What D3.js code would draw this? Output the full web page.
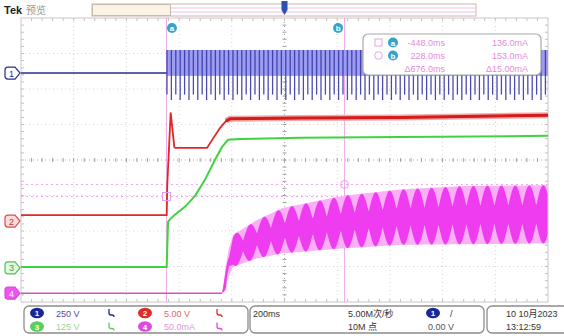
<!DOCTYPE html>
<html><head><meta charset="utf-8">
<script src="https://cdn.jsdelivr.net/npm/d3@7/dist/d3.min.js"></script>
<style>
html,body{margin:0;padding:0;background:#fff;}
svg{display:block;font-family:"Liberation Sans","Noto Sans CJK SC",sans-serif;}
</style></head>
<body>
<svg id="c" width="564" height="336"></svg>
<script>
// ---------- data ----------
// time in ms, 200 ms/div, 10 divisions
const timeDomain = [-1000, 1000];
// channel settings (units/div, ground offset in divisions from centre)
const channelNames = ["1", "2", "3", "4"];
const channelScales = [250, 5, 125, 50];          // V/div, V/div, V/div, mA/div
const channelOffsets = [2.45, -1.72, -3.04, -3.75];
const channelLabels = ["250 V", "5.00 V", "125 V", "50.0mA"];

// Ch1 (AC line voltage) envelope
const ch1Times = [-1000, -447, -446, 1000];
const ch1Hi = [0, 0, 162, 162];
const ch1Lo = [0, 0, -190, -190];
const ch1CarrierMs = 16.7;

// Ch2 (V)
const ch2Times = [-1000, -447, -445, -432, -425, -418, -414, -294, -275, -245, -222, -207, 59, 438, 1000];
const ch2Values = [0.85, 0.85, 5.0, 15.3, 12.8, 10.4, 10.3, 10.3, 11.4, 13.1, 14.1, 14.4, 14.5, 14.6, 14.9];

// Ch3 (V)
const ch3Times = [-1000, -447, -442, -434, -416, -378, -340, -302, -264, -237, -214, -169, 59, 438, 1000];
const ch3Values = [3.5, 3.5, 162, 172, 187, 215, 253, 310, 380, 426, 451, 454, 458, 461, 465];

// Ch4 (mA) envelope of the ripple current
const ch4HiTimes = [-1000, -237, -230, -222, -212, -195, -104, -6, 222, 438, 692, 996];
const ch4HiValues = [0, 0, 15, 39, 62, 82, 103, 120, 137, 146, 151, 152];
const ch4LoTimes = [-1000, -237, -222, -218, -195, -104, -6, 222, 438, 996];
const ch4LoValues = [0, 0, 4, 18, 37, 49, 56, 63, 68, 70];
const ch4RippleMs = 53;

// cursors
const cursorTimes = [-448, 228];         // a, b
const cursorLevels = [136, 153];         // a, b (mA on ch4)
const readoutRows = [["-448.0ms", "136.0mA"], ["228.0ms", "153.0mA"], ["\u0394676.0ms", "\u039415.00mA"]];

// status bar text
const timebaseText = "200ms";
const sampleText = ["5.00M次/秒", "10M 点"];
const triggerLevelText = "0.00 V";
const dateText = ["10 10月2023", "13:12:59"];

// ---------- drawing ----------
const svg = d3.select("#c");
const L = 21, R = 548, T = 18, B = 302;
const x = d3.scaleLinear().domain(timeDomain).range([L, R]);
const yDiv = d3.scaleLinear().domain([-4, 4]).range([B, T]);
const chY = (i, v) => yDiv(v / channelScales[i] + channelOffsets[i]);
const colors = {c1: "#2b2b96", c1l: "#9c9cf2", c2: "#e02626", c2l: "#f6a9a9", c3: "#3fd43f", c4: "#f03cf0", c4l: "#f9b0f6", cur: "#eeaaea"};

// top bar
svg.append("text").attr("x", 4).attr("y", 14).attr("font-size", 11).attr("font-weight", "bold").attr("fill", "#222").text("Tek");
svg.append("text").attr("x", 26).attr("y", 14).attr("font-size", 10).attr("fill", "#999").text("预览");
svg.append("rect").attr("x", 92).attr("y", 4).attr("width", 384).attr("height", 12).attr("fill", "#fff").attr("stroke", "#c9b9a9");
svg.append("rect").attr("x", 92.5).attr("y", 4.5).attr("width", 78).attr("height", 11).attr("fill", "#fbf3e6").attr("stroke", "#c9b9a9");
svg.append("line").attr("x1", 171).attr("x2", 476).attr("y1", 8).attr("y2", 8).attr("stroke", "#f0c0e0");
svg.append("line").attr("x1", 171).attr("x2", 476).attr("y1", 12).attr("y2", 12).attr("stroke", "#f0c0e0");

// grid
const g = svg.append("g");
for (let i = 1; i < 10; i++) {
  const xx = L + i * (R - L) / 10;
  g.append("line").attr("x1", xx).attr("x2", xx).attr("y1", T).attr("y2", B)
    .attr("stroke", i === 5 ? "#a8a8a8" : "#d4d4d4").attr("stroke-dasharray", "1,3");
}
for (let j = 1; j < 8; j++) {
  const yy = T + j * (B - T) / 8;
  g.append("line").attr("x1", L).attr("x2", R).attr("y1", yy).attr("y2", yy)
    .attr("stroke", j === 4 ? "#a8a8a8" : "#d4d4d4").attr("stroke-dasharray", "1,3");
}
// minor ticks on centre lines and borders
const cx0 = (L + R) / 2, cy0 = (T + B) / 2;
for (let k = 1; k < 50; k++) {
  const xx = L + k * (R - L) / 50;
  g.append("line").attr("x1", xx).attr("x2", xx).attr("y1", cy0 - 2).attr("y2", cy0 + 2).attr("stroke", "#a0a0a0");
  g.append("line").attr("x1", xx).attr("x2", xx).attr("y1", T).attr("y2", T + 3).attr("stroke", "#c0c0c0");
  g.append("line").attr("x1", xx).attr("x2", xx).attr("y1", B - 3).attr("y2", B).attr("stroke", "#c0c0c0");
}
for (let k = 1; k < 40; k++) {
  const yy = T + k * (B - T) / 40;
  g.append("line").attr("x1", cx0 - 2).attr("x2", cx0 + 2).attr("y1", yy).attr("y2", yy).attr("stroke", "#a0a0a0");
  g.append("line").attr("x1", L).attr("x2", L + 3).attr("y1", yy).attr("y2", yy).attr("stroke", "#c0c0c0");
  g.append("line").attr("x1", R - 3).attr("x2", R).attr("y1", yy).attr("y2", yy).attr("stroke", "#c0c0c0");
}
svg.append("rect").attr("x", L).attr("y", T).attr("width", R - L).attr("height", B - T).attr("fill", "none").attr("stroke", "#cfc3cf");

// trigger position marker
svg.append("path").attr("d", `M${x(0) - 3},1 h6 v9 l-3,5 l-3,-5 Z`).attr("fill", "#2c4fb0");

// cursors (vertical)
cursorTimes.forEach(t => {
  svg.append("line").attr("x1", x(t)).attr("x2", x(t)).attr("y1", T).attr("y2", B).attr("stroke", colors.cur).attr("stroke-width", 1);
});
// cursors (horizontal, ch4)
cursorLevels.forEach(v => {
  svg.append("line").attr("x1", L).attr("x2", R).attr("y1", chY(3, v)).attr("y2", chY(3, v))
    .attr("stroke", colors.cur).attr("stroke-dasharray", "2,3");
});

// ---- Ch4 ripple current ----
const hi4 = d3.scaleLinear().domain(ch4HiTimes).range(ch4HiValues).clamp(true);
const lo4 = d3.scaleLinear().domain(ch4LoTimes).range(ch4LoValues).clamp(true);
const tStart4 = ch4HiTimes[1];
const ts4 = d3.range(x(tStart4), R + 0.01, 0.5).map(px => x.invert(px));
svg.append("line").attr("x1", L).attr("x2", x(tStart4)).attr("y1", chY(3, 0)).attr("y2", chY(3, 0))
  .attr("stroke", "#cc55cc").attr("stroke-width", 1.5);
svg.append("path").datum(ts4).attr("fill", colors.c4l)
  .attr("d", d3.area().x(t => x(t)).y0(t => chY(3, lo4(t))).y1(t => chY(3, hi4(t))));
const beadF = t => 0.3 + 0.7 * Math.abs(Math.cos(Math.PI * (t - tStart4) / ch4RippleMs));
svg.append("path").datum(ts4).attr("fill", colors.c4)
  .attr("d", d3.area().x(t => x(t))
    .y0(t => { const m = (hi4(t) + lo4(t)) / 2, h = (hi4(t) - lo4(t)) / 2; return chY(3, m - h * beadF(t)); })
    .y1(t => { const m = (hi4(t) + lo4(t)) / 2, h = (hi4(t) - lo4(t)) / 2; return chY(3, m + h * beadF(t)); }));

// ---- Ch3 ----
const pts3 = ch3Times.map((t, i) => [t, ch3Values[i]]);
svg.append("path").datum(pts3).attr("fill", "none").attr("stroke", colors.c3).attr("stroke-width", 2)
  .attr("d", d3.line().x(d => x(d[0])).y(d => chY(2, d[1])));

// ---- Ch2 ----
const pts2 = ch2Times.map((t, i) => [t, ch2Values[i]]);
svg.append("path").datum(pts2.filter(d => d[0] >= -240)).attr("fill", "none").attr("stroke", colors.c2l).attr("stroke-width", 6)
  .attr("d", d3.line().x(d => x(d[0])).y(d => chY(1, d[1])));
svg.append("path").datum(pts2).attr("fill", "none").attr("stroke", colors.c2).attr("stroke-width", 1.8)
  .attr("d", d3.line().x(d => x(d[0])).y(d => chY(1, d[1])));
svg.append("path").datum(pts2.filter(d => d[0] >= -240)).attr("fill", "none").attr("stroke", "#d41c1c").attr("stroke-width", 3)
  .attr("d", d3.line().x(d => x(d[0])).y(d => chY(1, d[1])));

// ---- Ch1 ----
const hi1 = d3.scaleLinear().domain(ch1Times).range(ch1Hi);
const lo1 = d3.scaleLinear().domain(ch1Times).range(ch1Lo);
svg.append("line").attr("x1", L).attr("x2", x(ch1Times[1])).attr("y1", chY(0, 0)).attr("y2", chY(0, 0))
  .attr("stroke", colors.c1).attr("stroke-width", 1.6);
const t1 = ch1Times[2];
svg.append("rect").attr("x", x(t1)).attr("y", chY(0, ch1Hi[2])).attr("width", R - x(t1))
  .attr("height", chY(0, -20) - chY(0, ch1Hi[2])).attr("fill", colors.c1l);
const stripes = d3.range(t1, timeDomain[1], ch1CarrierMs);
svg.append("g").selectAll("line").data(stripes).join("line")
  .attr("x1", t => x(t)).attr("x2", t => x(t))
  .attr("y1", t => chY(0, hi1(t))).attr("y2", (t, i) => chY(0, i % 2 ? lo1(t) : lo1(t) * 0.8))
  .attr("stroke", "#3a3aa6").attr("stroke-width", 1.3).attr("opacity", 0.9);

// cursor markers
svg.append("rect").attr("x", x(cursorTimes[0]) - 4).attr("y", chY(3, cursorLevels[0]) - 4).attr("width", 8).attr("height", 8)
  .attr("fill", "none").attr("stroke", "#e49ee4");
svg.append("circle").attr("cx", x(cursorTimes[1])).attr("cy", chY(3, cursorLevels[1])).attr("r", 4)
  .attr("fill", "none").attr("stroke", "#e49ee4");
function cursorBadge(cx, cy, letter) {
  svg.append("circle").attr("cx", cx).attr("cy", cy).attr("r", 5).attr("fill", "#33a5c9");
  svg.append("text").attr("x", cx).attr("y", cy + 3).attr("text-anchor", "middle").attr("font-size", 8)
    .attr("font-weight", "bold").attr("fill", "#fff").text(letter);
}
cursorBadge(x(cursorTimes[0]) + 5.5, 28, "a");
cursorBadge(x(cursorTimes[1]) - 6.5, 28, "b");

// readout box
svg.append("rect").attr("x", 363).attr("y", 34).attr("width", 178).attr("height", 41).attr("rx", 5)
  .attr("fill", "#fff").attr("stroke", "#a8a8a8").attr("stroke-width", 1.2);
svg.append("rect").attr("x", 375).attr("y", 39).attr("width", 7).attr("height", 7).attr("fill", "none").attr("stroke", "#e4a4e4");
svg.append("circle").attr("cx", 378.5).attr("cy", 55.5).attr("r", 3.8).attr("fill", "none").attr("stroke", "#e4a4e4");
cursorBadge(393, 42.5, "a");
cursorBadge(393, 55.5, "b");
readoutRows.forEach((r, i) => {
  const yy = 46 + i * 13;
  svg.append("text").attr("x", 445).attr("y", yy).attr("text-anchor", "end").attr("font-size", 9).attr("fill", "#e68ad8").text(r[0]);
  svg.append("text").attr("x", 528).attr("y", yy).attr("text-anchor", "end").attr("font-size", 9).attr("fill", "#e68ad8").text(r[1]);
});

// channel markers on the left
const markerYs = channelOffsets.map(o => yDiv(o));
const markerStyle = [
  {fill: "#fff", stroke: colors.c1, text: colors.c1},
  {fill: "#fbdcdc", stroke: "#e04848", text: "#d03030"},
  {fill: "#e4f8e4", stroke: "#50c050", text: "#40a040"},
  {fill: "#ee55ee", stroke: "#dd44dd", text: "#fff"}
];
channelNames.forEach((n, i) => {
  const yy = markerYs[i], s = markerStyle[i];
  svg.append("path").attr("d", `M8,${yy - 6} H15 L20,${yy} L15,${yy + 6} H8 Q5,${yy + 6} 5,${yy + 3} V${yy - 3} Q5,${yy - 6} 8,${yy - 6} Z`)
    .attr("fill", s.fill).attr("stroke", s.stroke).attr("stroke-width", 1.2);
  svg.append("text").attr("x", 11.5).attr("y", yy + 3.5).attr("text-anchor", "middle").attr("font-size", 9)
    .attr("fill", s.text).text(n);
});

// ---- bottom status bar ----
function box(x0, x1) {
  svg.append("rect").attr("x", x0).attr("y", 306).attr("width", x1 - x0).attr("height", 27).attr("rx", 5)
    .attr("fill", "#fff").attr("stroke", "#8c8c8c").attr("stroke-width", 1.3);
}
box(24, 248); box(250, 484); box(487, 570);
const badgeFill = ["#1a2896", "#e02a2a", "#5ccc5c", "#e048e0"];
const labelFill = ["#5050a0", "#e06a6a", "#98d498", "#e690e0"];
const badgePos = [[37, 313], [145, 313], [37, 326.5], [145, 326.5]];
const chOrder = [0, 1, 2, 3];
chOrder.forEach(i => {
  const [bx, by] = badgePos[i];
  svg.append("ellipse").attr("cx", bx).attr("cy", by).attr("rx", 7).attr("ry", 5.2).attr("fill", badgeFill[i]);
  svg.append("text").attr("x", bx).attr("y", by + 3).attr("text-anchor", "middle").attr("font-size", 8).attr("font-weight", "bold").attr("fill", "#fff").text(channelNames[i]);
  svg.append("text").attr("x", bx + 19).attr("y", by + 3.5).attr("font-size", 9).attr("fill", labelFill[i]).text(channelLabels[i]);
  const ix = bx + 74;
  svg.append("path").attr("d", `M${ix - 2},${by - 4} v4 q0,2 2,2 h1 q2,0 2,2`).attr("fill", "none").attr("stroke", badgeFill[i]).attr("stroke-width", 1.3);
});
svg.append("text").attr("x", 253).attr("y", 316.5).attr("font-size", 9).attr("fill", "#333").text(timebaseText);
svg.append("text").attr("x", 348).attr("y", 316.5).attr("font-size", 9).attr("fill", "#333").text(sampleText[0]);
svg.append("text").attr("x", 348).attr("y", 330).attr("font-size", 9).attr("fill", "#333").text(sampleText[1]);
svg.append("ellipse").attr("cx", 433).attr("cy", 313).attr("rx", 7).attr("ry", 5.2).attr("fill", badgeFill[0]);
svg.append("text").attr("x", 433).attr("y", 316).attr("text-anchor", "middle").attr("font-size", 8).attr("font-weight", "bold").attr("fill", "#fff").text("1");
svg.append("text").attr("x", 450).attr("y", 316.5).attr("font-size", 9).attr("fill", "#333").text("/");
svg.append("text").attr("x", 428).attr("y", 330).attr("font-size", 9).attr("fill", "#555").text(triggerLevelText);
svg.append("text").attr("x", 506).attr("y", 316.5).attr("font-size", 9).attr("fill", "#333").text(dateText[0]);
svg.append("text").attr("x", 506).attr("y", 330).attr("font-size", 9).attr("fill", "#333").text(dateText[1]);
</script>
</body></html>
